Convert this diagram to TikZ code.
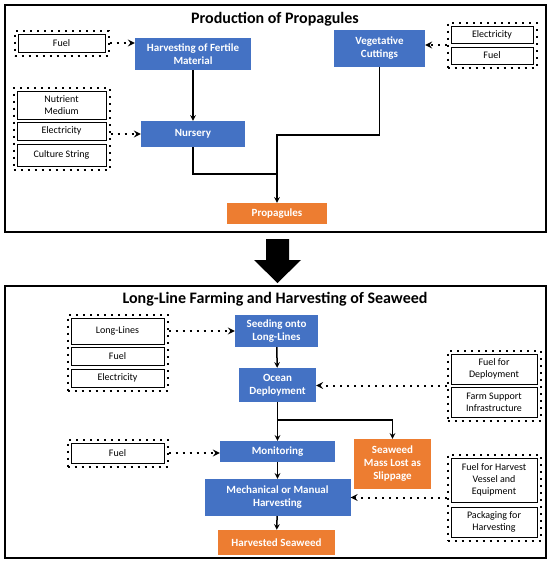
\documentclass[tikz,border=0pt]{standalone}
\usepackage{fontspec}
\setmainfont{Carlito}
\usepackage{xcolor}
\usetikzlibrary{arrows,positioning,fit,calc}
\definecolor{stepblue}{HTML}{4472C4}
\definecolor{outorange}{HTML}{ED7D31}

\begin{document}
\begin{tikzpicture}[
    x=1pt, y=-1pt,
    frame/.style={rectangle, draw=black, line width=2pt, inner sep=0pt},
    heading/.style={font=\fontsize{16}{18}\selectfont\bfseries},
    stage/.style={rectangle, fill=stepblue, text=white, align=center, inner sep=0pt, font=\fontsize{11}{13}\selectfont\bfseries},
    product/.style={rectangle, fill=outorange, text=white, align=center, inner sep=0pt, font=\fontsize{11}{13}\selectfont\bfseries},
    input/.style={rectangle, draw=black, line width=1pt, fill=white, align=center, inner sep=0pt, font=\fontsize{10}{12}\selectfont},
    group/.style={rectangle, draw=black, line width=2pt, dash pattern=on 2pt off 5pt, inner sep=3pt},
    arrow/.style={->, >=stealth, line width=1.5pt},
    feed/.style={->, >=stealth, line width=2pt, dash pattern=on 2pt off 5pt},
]
\useasboundingbox (0,0) rectangle (555,566);

% Frames and headings
\node[frame, minimum width=541pt, minimum height=227pt] (topframe) at (275.5,118.5) {};
\node[frame, minimum width=541pt, minimum height=272pt] (botframe) at (275.5,422) {};
\node[heading] (toptitle) at (275,19) {Production of Propagules};
\node[heading] (bottitle) at (275,299) {Long-Line Farming and Harvesting of Seaweed};

% Big arrow between the two stages
\fill[black] (266,239) -- (289,239) -- (289,260) -- (301,260) -- (277.5,283) -- (254,260) -- (266,260) -- cycle;

% Production of propagules: stages
\node[stage, minimum width=116pt, minimum height=32pt] (harvest) at (193,54) {Harvesting of Fertile\\Material};
\node[stage, minimum width=104pt, minimum height=26pt] (nursery) at (193,134) {Nursery};
\node[stage, minimum width=91pt, minimum height=37pt] (cuttings) at (379.5,48.5) {Vegetative\\Cuttings};
\node[product, minimum width=100pt, minimum height=21pt] (propagules) at (277,213.5) {Propagules};

% Production of propagules: inputs
\node[input, minimum width=87pt, minimum height=18pt] (fuelA) at (61.5,43) {Fuel};
\node[input, minimum width=89pt, minimum height=28pt] (nutrient) at (61.5,105) {Nutrient\\Medium};
\node[input, minimum width=89pt, minimum height=18pt] (elecA) at (61.5,131) {Electricity};
\node[input, minimum width=89pt, minimum height=22pt] (culture) at (61.5,155) {Culture String};
\node[input, minimum width=82pt, minimum height=17pt] (elecB) at (492,34.5) {Electricity};
\node[input, minimum width=82pt, minimum height=17pt] (fuelB) at (492,55.5) {Fuel};

\node[group, fit=(fuelA)] (fuelgrpA) {};
\node[group, fit=(nutrient) (culture)] (nurserygrp) {};
\node[group, fit=(elecB) (fuelB)] (cuttinggrp) {};

% Long-line farming: stages
\node[stage, minimum width=83pt, minimum height=32pt] (seeding) at (276.5,331) {Seeding onto\\Long-Lines};
\node[stage, minimum width=77pt, minimum height=34pt] (ocean) at (277.5,385) {Ocean\\Deployment};
\node[stage, minimum width=115pt, minimum height=21pt] (monitoring) at (277.5,451.5) {Monitoring};
\node[stage, minimum width=146pt, minimum height=37pt] (mechanical) at (277.5,497.5) {Mechanical or Manual\\Harvesting};
\node[product, minimum width=117pt, minimum height=25pt] (harvested) at (276.5,542.5) {Harvested Seaweed};
\node[product, minimum width=77pt, minimum height=50pt] (slippage) at (392.5,464) {Seaweed\\Mass Lost as\\Slippage};

% Long-line farming: inputs
\node[input, minimum width=93pt, minimum height=26pt] (longlines) at (117.5,331) {Long-Lines};
\node[input, minimum width=93pt, minimum height=18pt] (fuelC) at (117.5,356) {Fuel};
\node[input, minimum width=93pt, minimum height=18pt] (elecC) at (117.5,378) {Electricity};
\node[input, minimum width=93pt, minimum height=20pt] (fuelD) at (117.5,453) {Fuel};
\node[input, minimum width=86pt, minimum height=30pt] (fueldep) at (494,369) {Fuel for\\Deployment};
\node[input, minimum width=86pt, minimum height=30pt] (support) at (494,402) {Farm Support\\Infrastructure};
\node[input, minimum width=86pt, minimum height=44pt] (fuelvessel) at (494,480) {Fuel for Harvest\\Vessel and\\Equipment};
\node[input, minimum width=86pt, minimum height=30pt] (packaging) at (494,522) {Packaging for\\Harvesting};

\node[group, fit=(longlines) (elecC)] (seedgrp) {};
\node[group, fit=(fuelD)] (monitorgrp) {};
\node[group, fit=(fueldep) (support)] (deploygrp) {};
\node[group, fit=(fuelvessel) (packaging)] (harvestgrp) {};

% Junction points
\coordinate (cutjoin) at (277,135);
\coordinate (nurjoin) at (277,174);
\coordinate (split) at (277,420);

% Arrows - propagule production
\draw[arrow] (harvest) -- (nursery);
\draw[line width=1.5pt] (nursery.south) |- (nurjoin);
\draw[arrow] (cuttings.south) |- (cutjoin) -- (propagules.north);

% Arrows - inputs into propagule production
\draw[feed] (fuelgrpA.east) -- (fuelgrpA.east -| harvest.west);
\draw[feed] (nurserygrp.east |- nursery.west) -- (nursery.west);
\draw[feed] (cuttinggrp.west) -- (cuttinggrp.west -| cuttings.east);

% Arrows - long-line farming
\draw[arrow] (seeding) -- (ocean);
\draw[arrow] (ocean) -- (monitoring);
\draw[arrow] (split) -| (slippage.north);
\draw[arrow] (monitoring) -- (mechanical);
\draw[arrow] (mechanical) -- (harvested);

% Arrows - inputs into long-line farming
\draw[feed] (seedgrp.east |- seeding.west) -- (seeding.west);
\draw[feed] (monitorgrp.east) -- (monitorgrp.east -| monitoring.west);
\draw[feed] (deploygrp.west) -- (deploygrp.west -| ocean.east);
\draw[feed] (harvestgrp.west) -- (harvestgrp.west -| mechanical.east);

\end{tikzpicture}
\end{document}
